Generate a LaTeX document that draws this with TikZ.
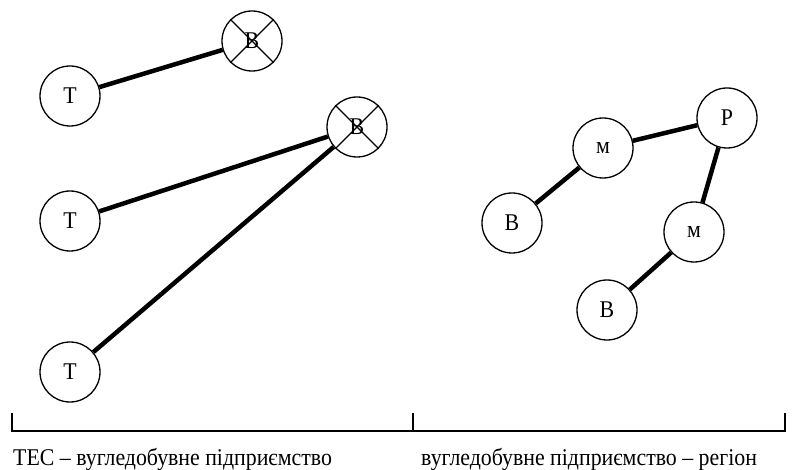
\documentclass[tikz,border=0pt]{standalone}
\usepackage{fontspec}
\setmainfont{Liberation Serif}
\newfontfamily\narrowfont[FakeStretch=0.91]{Liberation Serif}
\begin{document}
\begin{tikzpicture}[x=1pt,y=-1pt,
  vert/.style={draw,circle,line width=1.3pt,minimum size=60pt,inner sep=0pt,font=\narrowfont\fontsize{24}{28}\selectfont},
  link/.style={line width=4.5pt},
  xline/.style={line width=1.1pt},
  bracket/.style={line width=1.4pt},
  lbl/.style={anchor=base west,inner sep=0pt,font=\narrowfont\fontsize{24}{28}\selectfont}]
\useasboundingbox (0,0) rectangle (795,470);
% left part
\node[vert] (t1) at (70,96) {Т};
\node[vert] (b1) at (252,41) {В};
\node[vert] (t2) at (70,221) {Т};
\node[vert] (b2) at (357,127) {В};
\node[vert] (t3) at (70,372) {Т};
\draw[xline] (b1.45) -- (b1.225) (b1.135) -- (b1.315);
\draw[xline] (b2.45) -- (b2.225) (b2.135) -- (b2.315);
\draw[link] (t1) -- (b1);
\draw[link] (t2) -- (b2);
\draw[link] (t3) -- (b2);
% right part
\node[vert] (m1) at (603,148) {м};
\node[vert] (p) at (727,118) {Р};
\node[vert] (v1) at (512,223) {В};
\node[vert] (m2) at (694,232) {м};
\node[vert] (v2) at (607,310) {В};
\draw[link] (m1) -- (p);
\draw[link] (v1) -- (m1);
\draw[link] (p) -- (m2);
\draw[link] (m2) -- (v2);
% bracket
\coordinate (bl) at (12,431);
\coordinate (br) at (785,431);
\coordinate (bm) at (413,431);
\draw[bracket] ([yshift=18pt]bl) -- (bl) -- (br) -- ([yshift=18pt]br);
\draw[bracket] ([yshift=18pt]bm) -- (bm);
\node[lbl] (l1) at (13,465) {ТЕС – вугледобувне підприємство};
\node[lbl] (l2) at (421,465) {вугледобувне підприємство – регіон};
\end{tikzpicture}
\end{document}
